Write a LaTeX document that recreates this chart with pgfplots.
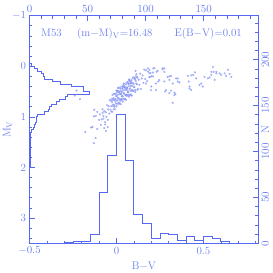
\documentclass[border=0pt]{standalone}
\usepackage{pgfplots}
\pgfplotsset{compat=1.18}
\definecolor{ptblue}{RGB}{85,105,245}
\definecolor{txtblue}{RGB}{105,125,240}
\pgfplotsset{
  base/.style={
    scale only axis, width=228.8bp, height=227.6bp,
    axis line style={ptblue, line width=0.8bp},
    every tick/.style={ptblue, line width=0.7bp},
    major tick length=5.5bp, minor tick length=2.8bp,
    tick label style={font=\fontsize{11}{13}\selectfont, text=txtblue},
    label style={font=\fontsize{11}{13}\selectfont, text=txtblue},
    tick align=inside,
  }
}
\begin{document}
\begin{tikzpicture}
\path[use as bounding box] (-29.5bp,-29.7bp) rectangle (243.5bp,243.3bp);
% main CMD axis: B-V (bottom) vs M_V (left)
\begin{axis}[base,
  xmin=-0.5, xmax=0.815, ymin=-1, ymax=3.5, y dir=reverse,
  xtick={-0.5,0,0.5}, xticklabels={$-0.5$,0,0.5},
  minor xtick={-0.4,-0.3,-0.2,-0.1,0.1,0.2,0.3,0.4,0.6,0.7,0.8},
  ytick={-1,0,1,2,3}, yticklabels={$-1$,0,1,2,3},
  minor ytick={-0.8,-0.6,-0.4,-0.2,0.2,0.4,0.6,0.8,1.2,1.4,1.6,1.8,2.2,2.4,2.6,2.8,3.2,3.4},
  xtick pos=left, ytick pos=left,
  xlabel={B$-$V}, ylabel={M$_\mathrm{V}$},
  xlabel style={at={(rel axis cs:0.5,0)}, anchor=center, yshift=-22.7bp},
  ylabel style={at={(rel axis cs:0,0.5)}, anchor=center, yshift=22bp},
  clip=true,
]
\addplot[only marks, mark=*, mark size=0.9bp, mark options={draw=ptblue!80, fill=ptblue!45, line width=0.3bp}, opacity=0.7] table {
x y
-0.080 0.85
-0.075 1.035
-0.070 0.89
-0.066 1.10
-0.062 0.91
-0.058 1.00
-0.054 0.77
-0.050 1.06
-0.047 0.855
-0.044 0.79
-0.041 0.935
-0.038 0.67
-0.035 0.855
-0.032 0.68
-0.029 0.895
-0.026 0.71
-0.023 0.565
-0.020 0.76
-0.018 0.63
-0.016 0.85
-0.014 0.67
-0.012 0.77
-0.010 0.55
-0.008 0.85
-0.006 0.65
-0.004 0.59
-0.002 0.74
0.000 0.48
0.002 0.675
0.004 0.51
0.006 0.734
0.008 0.559
0.010 0.424
0.012 0.629
0.014 0.504
0.016 0.728
0.018 0.553
0.020 0.658
0.022 0.443
0.024 0.748
0.026 0.552
0.028 0.497
0.030 0.652
0.032 0.397
0.034 0.592
0.036 0.426
0.038 0.651
0.040 0.476
0.042 0.341
0.044 0.546
0.046 0.42
0.048 0.645
0.050 0.47
0.052 0.575
0.054 0.36
0.056 0.664
0.058 0.469
0.060 0.414
0.062 0.569
0.064 0.314
0.066 0.508
0.068 0.343
0.070 0.568
0.072 0.393
0.074 0.258
0.076 0.462
0.078 0.337
0.080 0.562
0.082 0.387
0.084 0.492
0.086 0.276
0.088 0.581
0.090 0.386
0.093 0.328
0.096 0.48
0.099 0.223
0.102 0.415
0.105 0.247
0.108 0.469
0.111 0.291
0.114 0.154
0.117 0.356
0.120 0.228
0.124 0.448
0.128 0.267
0.132 0.367
0.136 0.146
0.140 0.446
0.145 0.243
0.150 0.18
0.155 0.327
0.160 0.064
0.165 0.251
0.170 0.078
0.176 0.292
0.182 0.107
0.188 0.211
0.195 0.133
0.202 0.195
0.210 0.124
-0.030 0.79
-0.027 0.645
-0.024 0.90
-0.021 0.665
-0.018 0.79
-0.015 0.545
-0.012 0.80
-0.009 0.655
-0.006 0.70
-0.003 0.545
0.000 0.79
0.003 0.482
0.006 0.624
0.009 0.487
0.012 0.749
0.015 0.521
0.018 0.653
0.021 0.415
0.024 0.678
0.027 0.54
0.030 0.592
0.033 0.444
0.036 0.696
0.039 0.389
0.042 0.531
0.045 0.393
0.048 0.655
0.051 0.427
0.054 0.56
0.057 0.322
0.060 0.584
0.063 0.446
0.066 0.498
0.069 0.351
0.072 0.603
0.075 0.295
0.078 0.437
0.081 0.299
0.084 0.562
0.087 0.334
0.090 0.466
0.093 0.228
0.096 0.49
0.099 0.353
0.102 0.405
0.105 0.257
0.108 0.509
0.111 0.201
0.114 0.344
0.117 0.206
0.120 0.468
0.001 0.587
0.006 0.674
0.011 0.431
0.016 0.718
0.021 0.495
0.026 0.652
0.031 0.509
0.036 0.596
0.041 0.353
0.046 0.64
0.051 0.417
0.056 0.574
0.061 0.431
0.066 0.518
0.071 0.275
0.076 0.562
0.081 0.339
-0.128 0.86
-0.119 0.98
-0.100 1.06
-0.090 1.16
-0.070 1.22
-0.138 1.20
-0.110 1.24
-0.180 1.30
-0.130 1.52
-0.120 1.42
-0.145 1.21
-0.110 0.90
-0.080 0.92
-0.130 0.99
-0.230 0.48
-0.210 0.65
-0.240 0.58
-0.085 1.05
-0.075 0.98
-0.065 1.15
-0.095 0.95
-0.060 1.28
-0.050 1.20
0.189 0.07
0.212 0.04
0.237 0.09
0.265 0.06
0.275 0.04
0.194 0.21
0.227 0.34
0.246 0.27
0.275 0.30
0.294 0.21
0.304 0.27
0.314 0.19
0.323 0.34
0.285 0.47
0.304 0.53
0.333 0.52
0.339 0.55
0.352 0.24
0.362 0.32
0.323 0.72
0.410 0.19
0.430 0.18
0.450 0.12
0.415 0.30
0.420 0.40
0.430 0.47
0.458 0.24
0.477 0.37
0.496 0.40
0.506 0.21
0.525 0.24
0.535 0.22
0.554 0.01
0.558 0.11
0.545 0.17
0.564 0.27
0.574 0.14
0.593 0.14
0.602 0.17
0.621 0.14
0.641 0.07
0.660 0.21
0.227 0.47
0.198 0.47
0.280 0.50
0.110 0.09
0.180 0.04
0.190 0.14
0.210 0.20
0.230 0.11
0.240 0.30
0.170 0.34
0.200 0.40
0.218 0.04
0.265 0.04
0.275 0.11
0.304 0.20
0.343 0.24
0.352 0.30
0.440 0.17
0.487 0.34
0.545 0.11
0.574 0.11
0.630 0.19
0.650 0.15
0.314 0.48
0.333 0.57
0.420 0.44
};
\node[anchor=base west, inner sep=0, text=txtblue, font=\fontsize{11}{13}\selectfont] at (axis cs:-0.434,-0.58) {M53};
\node[anchor=base west, inner sep=0, text=txtblue, font=\fontsize{11}{13}\selectfont] at (axis cs:-0.227,-0.58) {(m$-$M)$_\mathrm{V}$=16.48};
\node[anchor=base west, inner sep=0, text=txtblue, font=\fontsize{11}{13}\selectfont] at (axis cs:0.333,-0.58) {E(B$-$V)=0.01};
\end{axis}
% top N axis with M_V histogram
\begin{axis}[base,
  xmin=0, xmax=197, ymin=-1, ymax=3.5, y dir=reverse,
  xtick={0,50,100,150},
  minor xtick={10,20,30,40,60,70,80,90,110,120,130,140,160,170,180,190},
  ytick=\empty,
  xtick pos=right, xticklabel pos=right,
]
\addplot[ptblue, line width=0.8bp] coordinates {
(0,-0.05) (2,-0.05) (2,0) (4,0) (4,0.05) (7,0.05) (7,0.1) (10,0.1) (10,0.15) (12,0.15) (12,0.2) (13,0.2) (13,0.25) (20,0.25) (20,0.3) (27,0.3) (27,0.35) (36,0.35) (36,0.4) (46,0.4) (46,0.5) (52,0.5) (52,0.55) (33,0.55) (33,0.6) (31,0.6) (31,0.65) (26,0.65) (26,0.7) (23,0.7) (23,0.75) (19,0.75) (19,0.8) (17,0.8) (17,0.85) (16,0.85) (16,0.9) (13,0.9) (13,0.95) (7,0.95) (7,1.0) (6,1.0) (6,1.1) (5,1.1) (5,1.15) (4,1.15) (4,1.2) (3,1.2) (3,1.25) (2,1.25) (2,1.3) (1,1.3) (1,2.0) (0,2.0)
};
\end{axis}
% right N axis with B-V histogram
\begin{axis}[base,
  xmin=-0.5, xmax=0.815, ymin=0, ymax=248,
  xtick=\empty,
  ytick={0,50,100,150,200},
  minor ytick={10,20,30,40,60,70,80,90,110,120,130,140,160,170,180,190,210,220,230,240},
  ytick pos=right, yticklabel pos=right,
  yticklabel style={rotate=90, anchor=north},
  ylabel={N},
  ylabel style={at={(rel axis cs:1,0.5)}, anchor=center, yshift=-7bp},
]
\addplot[ptblue, line width=0.8bp, const plot] coordinates {
(-0.5,0) (-0.3,1) (-0.25,2) (-0.2,2) (-0.15,10) (-0.1,56) (-0.05,96) (0,140) (0.05,90) (0.1,32) (0.15,22) (0.2,5) (0.25,11) (0.3,10) (0.35,3) (0.4,8) (0.45,3) (0.5,7) (0.55,5) (0.6,2) (0.65,0) (0.815,0)
};
\end{axis}
\end{tikzpicture}
\end{document}
